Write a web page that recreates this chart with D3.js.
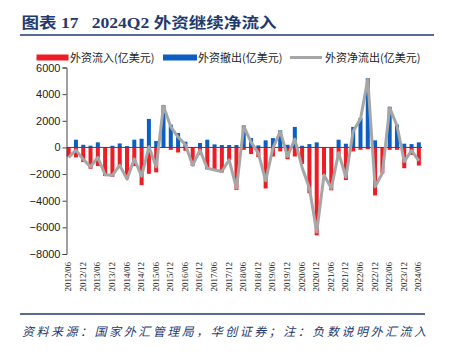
<!DOCTYPE html>
<html><head><meta charset="utf-8">
<script src="https://cdn.jsdelivr.net/npm/d3@7"></script>
<style>body{margin:0;background:#fff;}svg{display:block;}</style>
</head><body>
<script>
const quarters = ["2012/06","2012/09","2012/12","2013/03","2013/06","2013/09","2013/12","2014/03","2014/06","2014/09","2014/12","2015/03","2015/06","2015/09","2015/12","2016/03","2016/06","2016/09","2016/12","2017/03","2017/06","2017/09","2017/12","2018/03","2018/06","2018/09","2018/12","2019/03","2019/06","2019/09","2019/12","2020/03","2020/06","2020/09","2020/12","2021/03","2021/06","2021/09","2021/12","2022/03","2022/06","2022/09","2022/12","2023/03","2023/06","2023/09","2023/12","2024/03","2024/06"];
const inflow = [-700,-750,-1100,-1600,-1400,-2150,-2200,-1450,-2370,-1400,-2830,-1980,-1870,-50,-180,-380,-250,-1390,-560,-1650,-1700,-1880,-950,-3200,-180,-500,-730,-3080,-680,-300,-880,-680,-1240,-3440,-6600,-2070,-3220,-680,-2450,-300,-180,-130,-3600,-1960,-180,-180,-1560,-560,-1360];
const outflow = [30,580,200,130,380,20,125,300,100,580,650,2140,480,3180,1710,1080,430,30,330,580,230,180,180,180,1650,700,150,530,700,1290,200,1540,125,250,380,30,30,580,280,1540,2220,5200,530,30,3050,1710,280,250,380];
const net = [-750,-200,-900,-1450,-750,-2050,-2080,-1350,-2380,-870,-2150,50,-1450,3100,1550,780,200,-1340,-200,-1560,-1690,-1810,-930,-3070,1590,400,-430,-2500,-50,1200,-680,630,-1500,-3070,-6350,-2070,-3070,-400,-2240,1210,2140,5110,-2950,-1940,2970,1640,-1060,-230,-1010];
const yTicks = [-8000,-6000,-4000,-2000,0,2000,4000,6000];
const xTickLabels = quarters.filter((d,i)=>i%2===0);
const legendLabels = ["外资流入(亿美元)","外资撤出(亿美元)","外资净流出(亿美元)"];
const titleText = "图表 17   2024Q2 外资继续净流入";
const sourceText = "资料来源：国家外汇管理局，华创证券；注：负数说明外汇流入";

const W=451,H=356;
const RED="#EE1C25", BLUE="#0C5FC2", GRAY="#A6A6A6", NAVY="#1F3A70";
const svg=d3.select("body").append("svg").attr("width",W).attr("height",H);

svg.append("text").attr("x",21.5).attr("y",28).attr("fill",NAVY)
  .attr("font-family","'Liberation Serif','Noto Sans CJK SC',serif").attr("font-weight","bold")
  .attr("font-size",15).attr("textLength",255).attr("lengthAdjust","spacingAndGlyphs")
  .attr("xml:space","preserve").style("white-space","pre").text(titleText);
svg.append("line").attr("x1",20).attr("x2",434).attr("y1",35).attr("y2",35).attr("stroke",NAVY).attr("stroke-width",1.5);

const x=d3.scaleBand().domain(quarters).range([65,422.5]).paddingInner(0.45).paddingOuter(0.225);
const y=d3.scaleLinear().domain([-8000,6000]).range([254,67.5]);

const g=svg.append("g");
g.selectAll(".r").data(quarters).join("rect")
  .attr("x",d=>x(d)).attr("width",x.bandwidth())
  .attr("y",(d,i)=>y(0)).attr("height",(d,i)=>y(inflow[i])-y(0)).attr("fill",RED);
g.selectAll(".b").data(quarters).join("rect")
  .attr("x",d=>x(d)).attr("width",x.bandwidth())
  .attr("y",(d,i)=>y(outflow[i])).attr("height",(d,i)=>y(0)-y(outflow[i])).attr("fill",BLUE);

svg.append("line").attr("x1",66.5).attr("x2",422).attr("y1",y(0)).attr("y2",y(0)).attr("stroke","#444").attr("stroke-width",1);

const yAxis=d3.axisLeft(y).tickValues(yTicks).tickSize(4).tickPadding(2).tickFormat(d3.format("d"));
const ya=svg.append("g").attr("transform","translate(66.5,0)").call(yAxis);
ya.select(".domain").attr("stroke","#444");
ya.selectAll(".tick line").attr("stroke","#444");
ya.selectAll("text").attr("font-family","'Liberation Sans',Arial,sans-serif").attr("font-size",11).attr("fill","#222");

const line=d3.line().x((d,i)=>x(quarters[i])+x.bandwidth()/2).y(d=>y(d));
svg.append("path").datum(net).attr("d",line).attr("fill","none").attr("stroke",GRAY).attr("stroke-width",3).attr("stroke-linejoin","round");

svg.append("g").selectAll("text").data(xTickLabels).join("text")
  .attr("transform",d=>`translate(${x(d)+x.bandwidth()/2+2.5},262) rotate(-90)`)
  .attr("text-anchor","end").attr("font-family","'Liberation Serif','Times New Roman',serif").attr("font-size",9).attr("fill","#222")
  .text(d=>d);

// legend
const lg=svg.append("g").attr("font-family","'Noto Sans CJK SC',sans-serif").attr("font-size",11).attr("fill","#222");
lg.append("rect").attr("x",36.5).attr("y",54.5).attr("width",32).attr("height",6).attr("fill",RED);
lg.append("text").attr("x",70).attr("y",61.5).text(legendLabels[0]);
lg.append("rect").attr("x",163).attr("y",54.5).attr("width",34).attr("height",6).attr("fill",BLUE);
lg.append("text").attr("x",198).attr("y",61.5).text(legendLabels[1]);
lg.append("line").attr("x1",290).attr("x2",322).attr("y1",57.5).attr("y2",57.5).attr("stroke",GRAY).attr("stroke-width",3);
lg.append("text").attr("x",325).attr("y",61.5).text(legendLabels[2]);

svg.append("line").attr("x1",20).attr("x2",425).attr("y1",314).attr("y2",314).attr("stroke",NAVY).attr("stroke-width",1.5);
svg.append("text").attr("x",22).attr("y",336).attr("fill",NAVY).attr("font-style","italic")
  .attr("font-family","'Noto Sans CJK SC',sans-serif").attr("font-size",12)
  .attr("textLength",404).attr("lengthAdjust","spacing").text(sourceText);
</script>
</body></html>
